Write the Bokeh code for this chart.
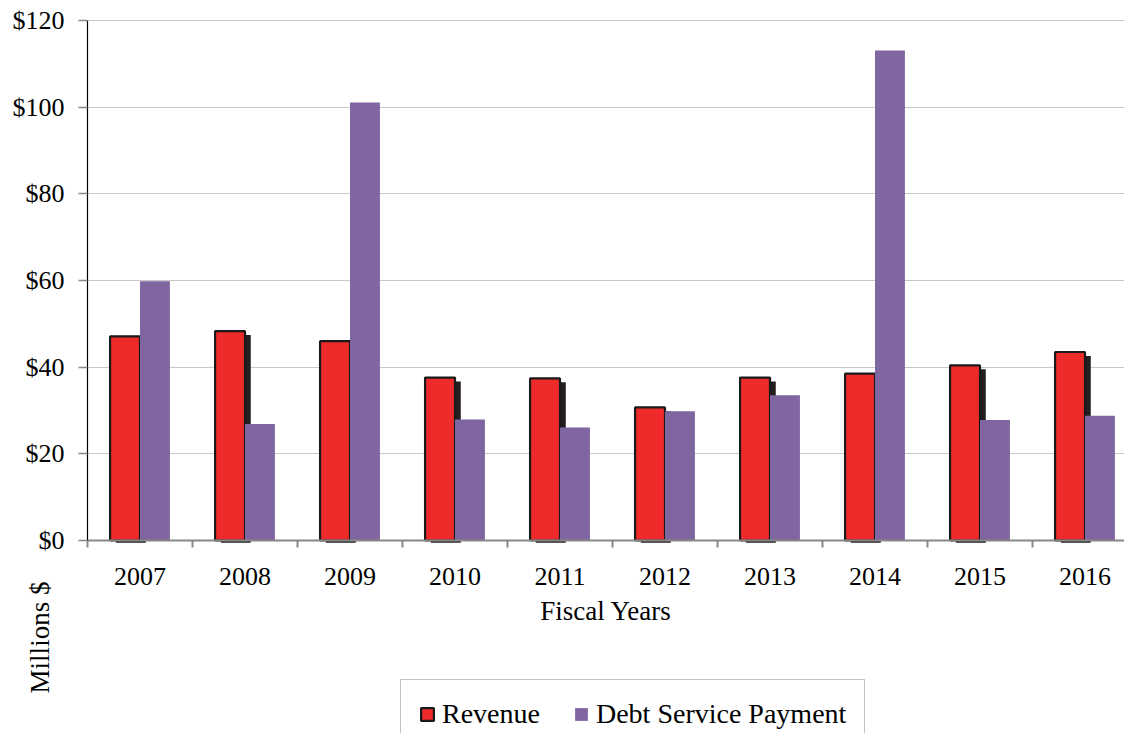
import math
from bokeh.plotting import figure
from bokeh.models import (Range1d, FixedTicker, Legend, LegendItem, Label,
                          NumeralTickFormatter, ColumnDataSource)
from bokeh.embed import file_html
from bokeh.resources import INLINE

years = ["2007", "2008", "2009", "2010", "2011", "2012", "2013", "2014", "2015", "2016"]
revenue = [47.1, 48.3, 46.0, 37.6, 37.4, 30.7, 37.6, 38.5, 40.4, 43.5]
debt_service = [59.8, 26.9, 101.1, 27.9, 26.1, 29.8, 33.5, 113.1, 27.8, 28.8]
y_ticks = [0, 20, 40, 60, 80, 100, 120]

FONT = "Liberation Serif"
RED = "#EE2A2A"
PURPLE = "#8066A0"

centers = [i + 0.5 for i in range(len(years))]
bw = 0.285
src = ColumnDataSource(dict(
    xr=[c - bw / 2 for c in centers],
    xp=[c + bw / 2 for c in centers],
    xs=[c - bw / 2 + 0.055 for c in centers],
    rev=revenue,
    rev_sh=[v - 0.9 for v in revenue],
    debt=debt_service,
))

# page geometry (pixels): plot origin at (87, 540), y=120 at pixel row 20
W, H = 1124, 733
X0, Y0, YTOP = 87.0, 540.0, 20.0
px_cat = 105.0
px_unit = (Y0 - YTOP) / 120.0
x_range = Range1d(-X0 / px_cat, (W - X0) / px_cat)
y_range = Range1d(-(H - Y0) / px_unit, 120 + YTOP / px_unit)

p = figure(width=W, height=H, output_backend="svg", toolbar_location=None,
           x_range=x_range, y_range=y_range,
           min_border_left=0, min_border_top=0, min_border_bottom=0,
           min_border_right=0)
p.outline_line_color = None
p.background_fill_color = "white"
p.border_fill_color = "white"

# shadow, revenue, debt service
p.vbar(x="xs", top="rev_sh", bottom=-0.5, width=bw, source=src,
       fill_color="#231F20", line_color=None)
r_rev = p.vbar(x="xr", top="rev", width=bw, source=src,
               fill_color=RED, line_color="#1a1a1a", line_width=2.2)
r_debt = p.vbar(x="xp", top="debt", width=bw, source=src,
                fill_color=PURPLE, line_color=None)

# axes
xa = p.xaxis[0]
xa.fixed_location = 0
xa.bounds = (0, len(years))
xa.ticker = FixedTicker(ticks=centers, minor_ticks=list(range(len(years) + 1)))
xa.major_label_overrides = {c: y for c, y in zip(centers, years)}
xa.major_tick_out = 0
xa.major_tick_in = 0
xa.minor_tick_out = 7
xa.minor_tick_in = 0
xa.minor_tick_line_color = "#888888"
xa.minor_tick_line_width = 2
xa.axis_line_color = "#888888"
xa.axis_line_width = 2
xa.major_label_text_font = FONT
xa.major_label_text_font_size = "26px"
xa.major_label_text_color = "black"
xa.major_label_standoff = 20
xa.axis_label = "Fiscal Years"
xa.axis_label_text_font = FONT
xa.axis_label_text_font_size = "27px"
xa.axis_label_text_font_style = "normal"
xa.axis_label_text_color = "black"
xa.axis_label_standoff = 8

ya = p.yaxis[0]
ya.fixed_location = 0
ya.bounds = (0, 120)
ya.ticker = FixedTicker(ticks=y_ticks, minor_ticks=[])
ya.formatter = NumeralTickFormatter(format="$0")
ya.major_tick_out = 9
ya.major_tick_in = 0
ya.major_tick_line_color = "#888888"
ya.major_tick_line_width = 1.5
ya.axis_line_color = "black"
ya.axis_line_width = 1.2
ya.major_label_text_font = FONT
ya.major_label_text_font_size = "26px"
ya.major_label_text_color = "black"
ya.major_label_standoff = 14

p.xgrid.grid_line_color = None
p.ygrid.grid_line_color = "#C8C8C8"
p.ygrid.grid_line_width = 1.2
p.ygrid.cross_bounds = (0, x_range.end)

p.add_layout(Label(x=39, y=H - 637, x_units="screen", y_units="screen",
                   text="Millions $", angle=math.pi / 2, text_align="center",
                   text_baseline="middle", text_font=FONT, text_font_size="27px",
                   text_color="black"))

legend = Legend(items=[LegendItem(label="Revenue", renderers=[r_rev]),
                       LegendItem(label="Debt Service Payment", renderers=[r_debt])],
                orientation="horizontal", location=(400, -16),
                label_text_font=FONT, label_text_font_size="28px",
                label_text_color="black",
                glyph_width=16, glyph_height=16, label_standoff=7,
                spacing=33, padding=18, margin=0,
                border_line_color="#888888", border_line_width=1.5,
                background_fill_alpha=1.0)
p.add_layout(legend, "center")

open("out.html", "w").write(file_html(p, INLINE))
